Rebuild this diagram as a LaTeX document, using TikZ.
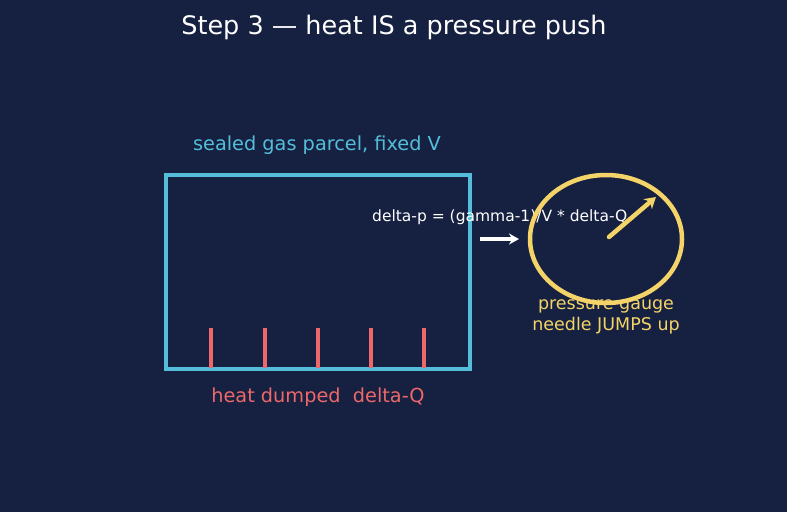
\documentclass[tikz,border=0pt]{standalone}
\usepackage{fontspec}
\setmainfont{DejaVu Sans}
\usetikzlibrary{arrows.meta,shapes.geometric}
\definecolor{bg}{RGB}{22,32,64}
\definecolor{cyanc}{RGB}{84,190,218}
\definecolor{redc}{RGB}{236,104,106}
\definecolor{yelc}{RGB}{244,212,104}
\begin{document}
\begin{tikzpicture}[x=1pt,y=-1pt,
  lbl/.style={inner sep=0pt,anchor=center},
  tick/.style={redc,line width=3.5pt}]
\fill[bg] (0,0) rectangle (787,512);
\useasboundingbox (0,0) rectangle (787,512);
\node[lbl,white,font=\fontsize{25.5}{30}\selectfont] (title) at (394,27) {Step 3 — heat IS a pressure push};
\node[draw=cyanc,line width=4.5pt,minimum width=304pt,minimum height=194pt,inner sep=0pt] (box) at (318,272) {};
\node[lbl,cyanc,font=\fontsize{19.3}{22}\selectfont] (boxlbl) at (317,145) {sealed gas parcel, fixed V};
\foreach \x [count=\i] in {211,265,318,371,424}{
  \coordinate (t\i a) at (\x,328);
  \coordinate (t\i b) at (\x,368);
  \draw[tick] (t\i a) -- (t\i b);
}
\node[lbl,redc,font=\fontsize{19.3}{22}\selectfont] (heat) at (318,397) {heat dumped\ \ delta-Q};
\node[lbl,white,anchor=west,font=\fontsize{15.5}{18}\selectfont] (formula) at (372,217) {delta-p = (gamma-1)/V * delta-Q};
\coordinate (a1) at (480,239);
\coordinate (a2) at (519,239);
\draw[white,line width=3.5pt,-{Stealth[length=10pt,width=11pt]}] (a1) -- (a2);
\node[draw=yelc,line width=4.5pt,ellipse,minimum width=152pt,minimum height=128pt,inner sep=0pt] (gauge) at (606,239) {};
\coordinate (n1) at (609,237);
\coordinate (n2) at (656,197);
\draw[yelc,line width=4.5pt,line cap=round,-{Stealth[length=11pt,width=13pt]}] (n1) -- (n2);
\node[lbl,yelc,font=\fontsize{17.5}{20.5}\selectfont,align=center] (glbl) at (606,317) {pressure gauge\\needle JUMPS up};
\end{tikzpicture}
\end{document}
